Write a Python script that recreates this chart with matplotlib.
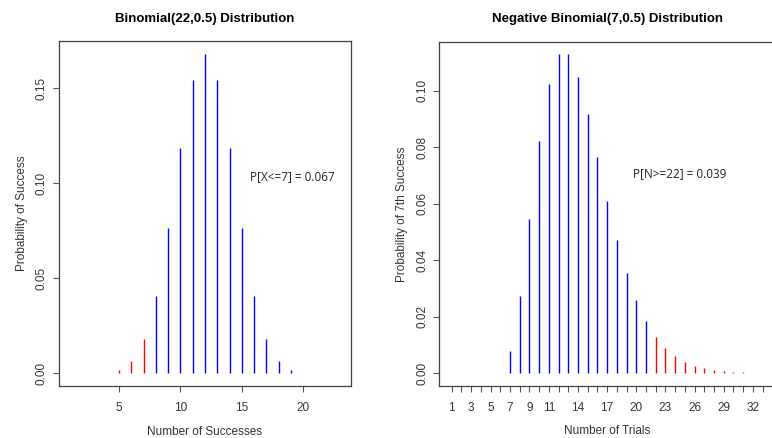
import matplotlib
matplotlib.use('Agg')
import matplotlib.pyplot as plt

plt.rcParams['font.family'] = ['Liberation Sans', 'DejaVu Sans']

# Binomial(22, 0.5): P[X = k] for k = 0..22, drawn at positions 1..23
binom_x = list(range(1, 24))
binom_p = [0.0000002, 0.0000052, 0.0000551, 0.0003672, 0.0017440, 0.0062785,
           0.0177891, 0.0406609, 0.0762391, 0.1185942, 0.1541724, 0.1681881,
           0.1541724, 0.1185942, 0.0762391, 0.0406609, 0.0177891, 0.0062785,
           0.0017440, 0.0003672, 0.0000551, 0.0000052, 0.0000002]
binom_cut = 7
binom_txt = 'P[X<=7] = 0.067'

# Negative binomial(7, 0.5): P[N = n] trials until 7th success, n = 1..33
nb_x = list(range(1, 34))
nb_p = [0, 0, 0, 0, 0, 0, 0.0078, 0.0273, 0.0547, 0.0820, 0.1025, 0.1128,
        0.1128, 0.1047, 0.0916, 0.0764, 0.0611, 0.0472, 0.0354, 0.0259,
        0.0185, 0.0129, 0.0089, 0.0060, 0.0040, 0.0026, 0.0017, 0.0011,
        0.0007, 0.00044, 0.00028, 0.00017, 0.00011]
nb_cut = 22
nb_txt = 'P[N>=22] = 0.039'
nb_ticklabels = ['1', '3', '5', '7', '9', '11', '14', '17', '20', '23', '26', '29', '32']

W, H = 772, 438
fig = plt.figure(figsize=(W / 100, H / 100), dpi=100)
ax1 = fig.add_axes([59 / W, (H - 386) / H, 292 / W, 345 / H])
ax2 = fig.add_axes([439.3 / W, (H - 386) / H, 335.7 / W, 344.3 / H])

tcol = '#333333'


def r_style(ax):
    for s in ax.spines.values():
        s.set_color('#404040')
        s.set_linewidth(0.9)
    ax.tick_params(direction='out', length=4.5, width=0.8, color='#555555',
                   labelcolor=tcol, labelsize=8.5)
    ax.tick_params(axis='y', labelrotation=90)
    ax.tick_params(axis='x', pad=7)
    for lab in ax.get_yticklabels():
        lab.set_va('center')


def labels(ax, xl, yl, title):
    ax.text(0.5, -0.132, xl, transform=ax.transAxes, ha='center', va='center',
            fontsize=8.5, color=tcol)
    ax.set_ylabel(yl, fontsize=8.5, color=tcol, labelpad=6)
    ax.set_title(title, fontsize=9.5, fontweight='bold', pad=14)


# left panel
cols = ['red' if x <= binom_cut else 'blue' for x in binom_x]
ax1.vlines(binom_x, 0, binom_p, colors=cols, linewidth=1.0)
ax1.set_xlim(0.12, 23.88)
ax1.set_ylim(-0.0067, 0.1749)
ax1.set_xticks([5, 10, 15, 20])
ax1.set_yticks([0.0, 0.05, 0.10, 0.15])
ax1.set_yticklabels(['0.00', '0.05', '0.10', '0.15'])
r_style(ax1)
labels(ax1, 'Number of Successes', 'Probability of Success',
       'Binomial(22,0.5) Distribution')
ax1.text(19.15, 0.1037, binom_txt, ha='center', va='center', fontsize=8.5,
         color='#222222', family=['Open Sans', 'DejaVu Sans'])

# right panel
cols = ['red' if x >= nb_cut else 'blue' for x in nb_x]
ax2.vlines(nb_x, 0, nb_p, colors=cols, linewidth=1.0)
ax2.set_xlim(-0.28, 34.28)
ax2.set_ylim(-0.0045, 0.1173)
ax2.set_xticks(nb_x)
ax2.set_xticklabels([str(x) if str(x) in nb_ticklabels else '' for x in nb_x])
ax2.set_yticks([0.0, 0.02, 0.04, 0.06, 0.08, 0.10])
ax2.set_yticklabels(['0.00', '0.02', '0.04', '0.06', '0.08', '0.10'])
r_style(ax2)
labels(ax2, 'Number of Trials', 'Probability of 7th Success',
       'Negative Binomial(7,0.5) Distribution')
ax2.text(24.5, 0.0705, nb_txt, ha='center', va='center', fontsize=8.5,
         color='#222222', family=['Open Sans', 'DejaVu Sans'])

fig.savefig('out.png', dpi=100)
